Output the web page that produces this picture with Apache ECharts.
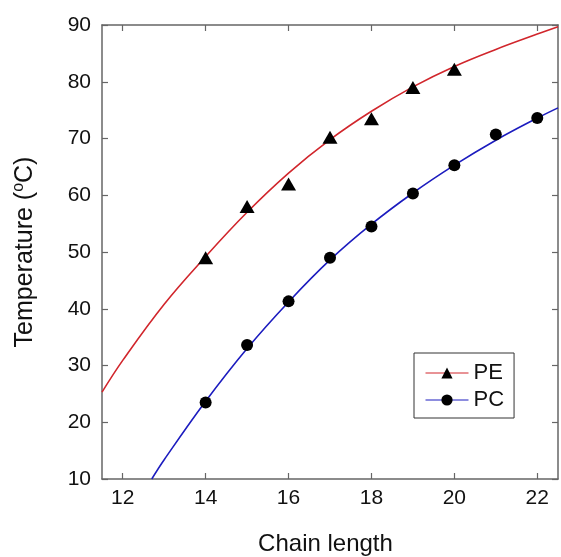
<!DOCTYPE html>
<html>
<head>
<meta charset="utf-8">
<script src="https://cdn.jsdelivr.net/npm/echarts@6/dist/echarts.min.js"></script>
<style>
  html, body { margin: 0; padding: 0; background: #fff; }
  #chart { width: 561px; height: 557px; }
</style>
</head>
<body>
<div id="chart"></div>
<script>
// Measured transition temperatures vs. chain length
const peChain = [14, 15, 16, 17, 18, 19, 20];
const peTemp = [49.0, 58.0, 62.0, 70.2, 73.5, 79.0, 82.2];
const pcChain = [14, 15, 16, 17, 18, 19, 20, 21, 22];
const pcTemp = [23.5, 33.6, 41.3, 49.0, 54.5, 60.3, 65.3, 70.7, 73.6];

// Fitted trend curves
const peFitChain = [11.5, 12, 13, 14, 15, 16, 17, 18, 19, 20, 21, 22, 22.5];
const peFitTemp = [25.3, 30.9, 40.8, 49.2, 57.0, 63.9, 69.8, 74.8, 79.1, 82.7, 85.7, 88.4, 89.7];
const pcFitChain = [12.7, 13, 14, 15, 16, 17, 18, 19, 20, 21, 22, 22.5];
const pcFitTemp = [10.0, 13.4, 23.7, 33.0, 41.2, 48.6, 54.9, 60.4, 65.3, 69.7, 73.6, 75.4];

// Axis ticks
const xTicks = [12, 14, 16, 18, 20, 22];
const yTicks = [10, 20, 30, 40, 50, 60, 70, 80, 90];

const zip = (xs, ys) => xs.map((x, i) => [x, ys[i]]);

const FONT = 'Liberation Sans, Arial, sans-serif';
const frameLine = { show: true, lineStyle: { color: '#666', width: 1.5 } };
const inTick = { show: true, inside: true, length: 6, lineStyle: { color: '#666', width: 1.2 } };

const chart = echarts.init(document.getElementById('chart'), null, { renderer: 'canvas' });

chart.setOption({
  animation: false,
  backgroundColor: '#fff',
  grid: { left: 102, right: 3, top: 25, bottom: 78, containLabel: false, outerBoundsMode: 'none' },
  legend: {
    left: 414, top: 353,
    orient: 'vertical',
    padding: [9, 10, 7, 11],
    itemGap: 5,
    itemWidth: 43,
    itemHeight: 14,
    borderColor: '#333',
    borderWidth: 1,
    backgroundColor: '#fff',
    lineStyle: { width: 1 },
    textStyle: { fontFamily: FONT, fontSize: 22, color: '#111', lineHeight: 22 },
    data: ['PE', 'PC']
  },
  xAxis: [
    {
      type: 'value', position: 'bottom', min: 11.5, max: 22.5,
      axisLine: frameLine,
      axisTick: Object.assign({ customValues: xTicks }, inTick),
      axisLabel: { customValues: xTicks, margin: 9, fontFamily: FONT, fontSize: 21, color: '#111' },
      splitLine: { show: false },
      name: 'Chain length', nameLocation: 'middle', nameGap: 53,
      nameTextStyle: { fontFamily: FONT, fontSize: 24, color: '#111', padding: [0, 9, 0, 0] }
    },
    {
      type: 'value', position: 'top', min: 11.5, max: 22.5,
      axisLine: frameLine,
      axisTick: Object.assign({ customValues: xTicks }, inTick),
      axisLabel: { show: false },
      splitLine: { show: false }
    }
  ],
  yAxis: [
    {
      type: 'value', position: 'left', min: 10, max: 90, interval: 10,
      axisLine: frameLine,
      axisTick: Object.assign({ customValues: yTicks }, inTick),
      axisLabel: { customValues: yTicks, margin: 11, fontFamily: FONT, fontSize: 21, color: '#111' },
      splitLine: { show: false },
      name: 'Temperature ({sup|o}C)', nameLocation: 'middle', nameGap: 63, nameRotate: 90,
      nameTextStyle: {
        fontFamily: FONT, fontSize: 25, color: '#111', lineHeight: 28,
        rich: { sup: { fontFamily: FONT, fontSize: 16, color: '#111', verticalAlign: 'top', lineHeight: 28, padding: [0, 0, 10, 0] } }
      }
    },
    {
      type: 'value', position: 'right', min: 10, max: 90, interval: 10,
      axisLine: frameLine,
      axisTick: Object.assign({ customValues: yTicks }, inTick),
      axisLabel: { show: false },
      splitLine: { show: false }
    }
  ],
  series: [
    {
      name: 'PE', type: 'line', smooth: 0.4, showSymbol: false,
      symbol: 'triangle', symbolSize: 12,
      itemStyle: { color: '#000' },
      lineStyle: { color: '#d1262c', width: 1.6 },
      data: zip(peFitChain, peFitTemp), z: 2
    },
    {
      name: 'PC', type: 'line', smooth: 0.4, showSymbol: false,
      symbol: 'circle', symbolSize: 11,
      itemStyle: { color: '#000' },
      lineStyle: { color: '#1c1cbf', width: 1.6 },
      data: zip(pcFitChain, pcFitTemp), z: 2
    },
    {
      name: 'PE data', type: 'scatter', symbol: 'triangle', symbolSize: [15, 13],
      itemStyle: { color: '#000', opacity: 1 },
      data: zip(peChain, peTemp), z: 3
    },
    {
      name: 'PC data', type: 'scatter', symbol: 'circle', symbolSize: 12,
      itemStyle: { color: '#000', opacity: 1 },
      data: zip(pcChain, pcTemp), z: 3
    }
  ]
});
</script>
</body>
</html>
